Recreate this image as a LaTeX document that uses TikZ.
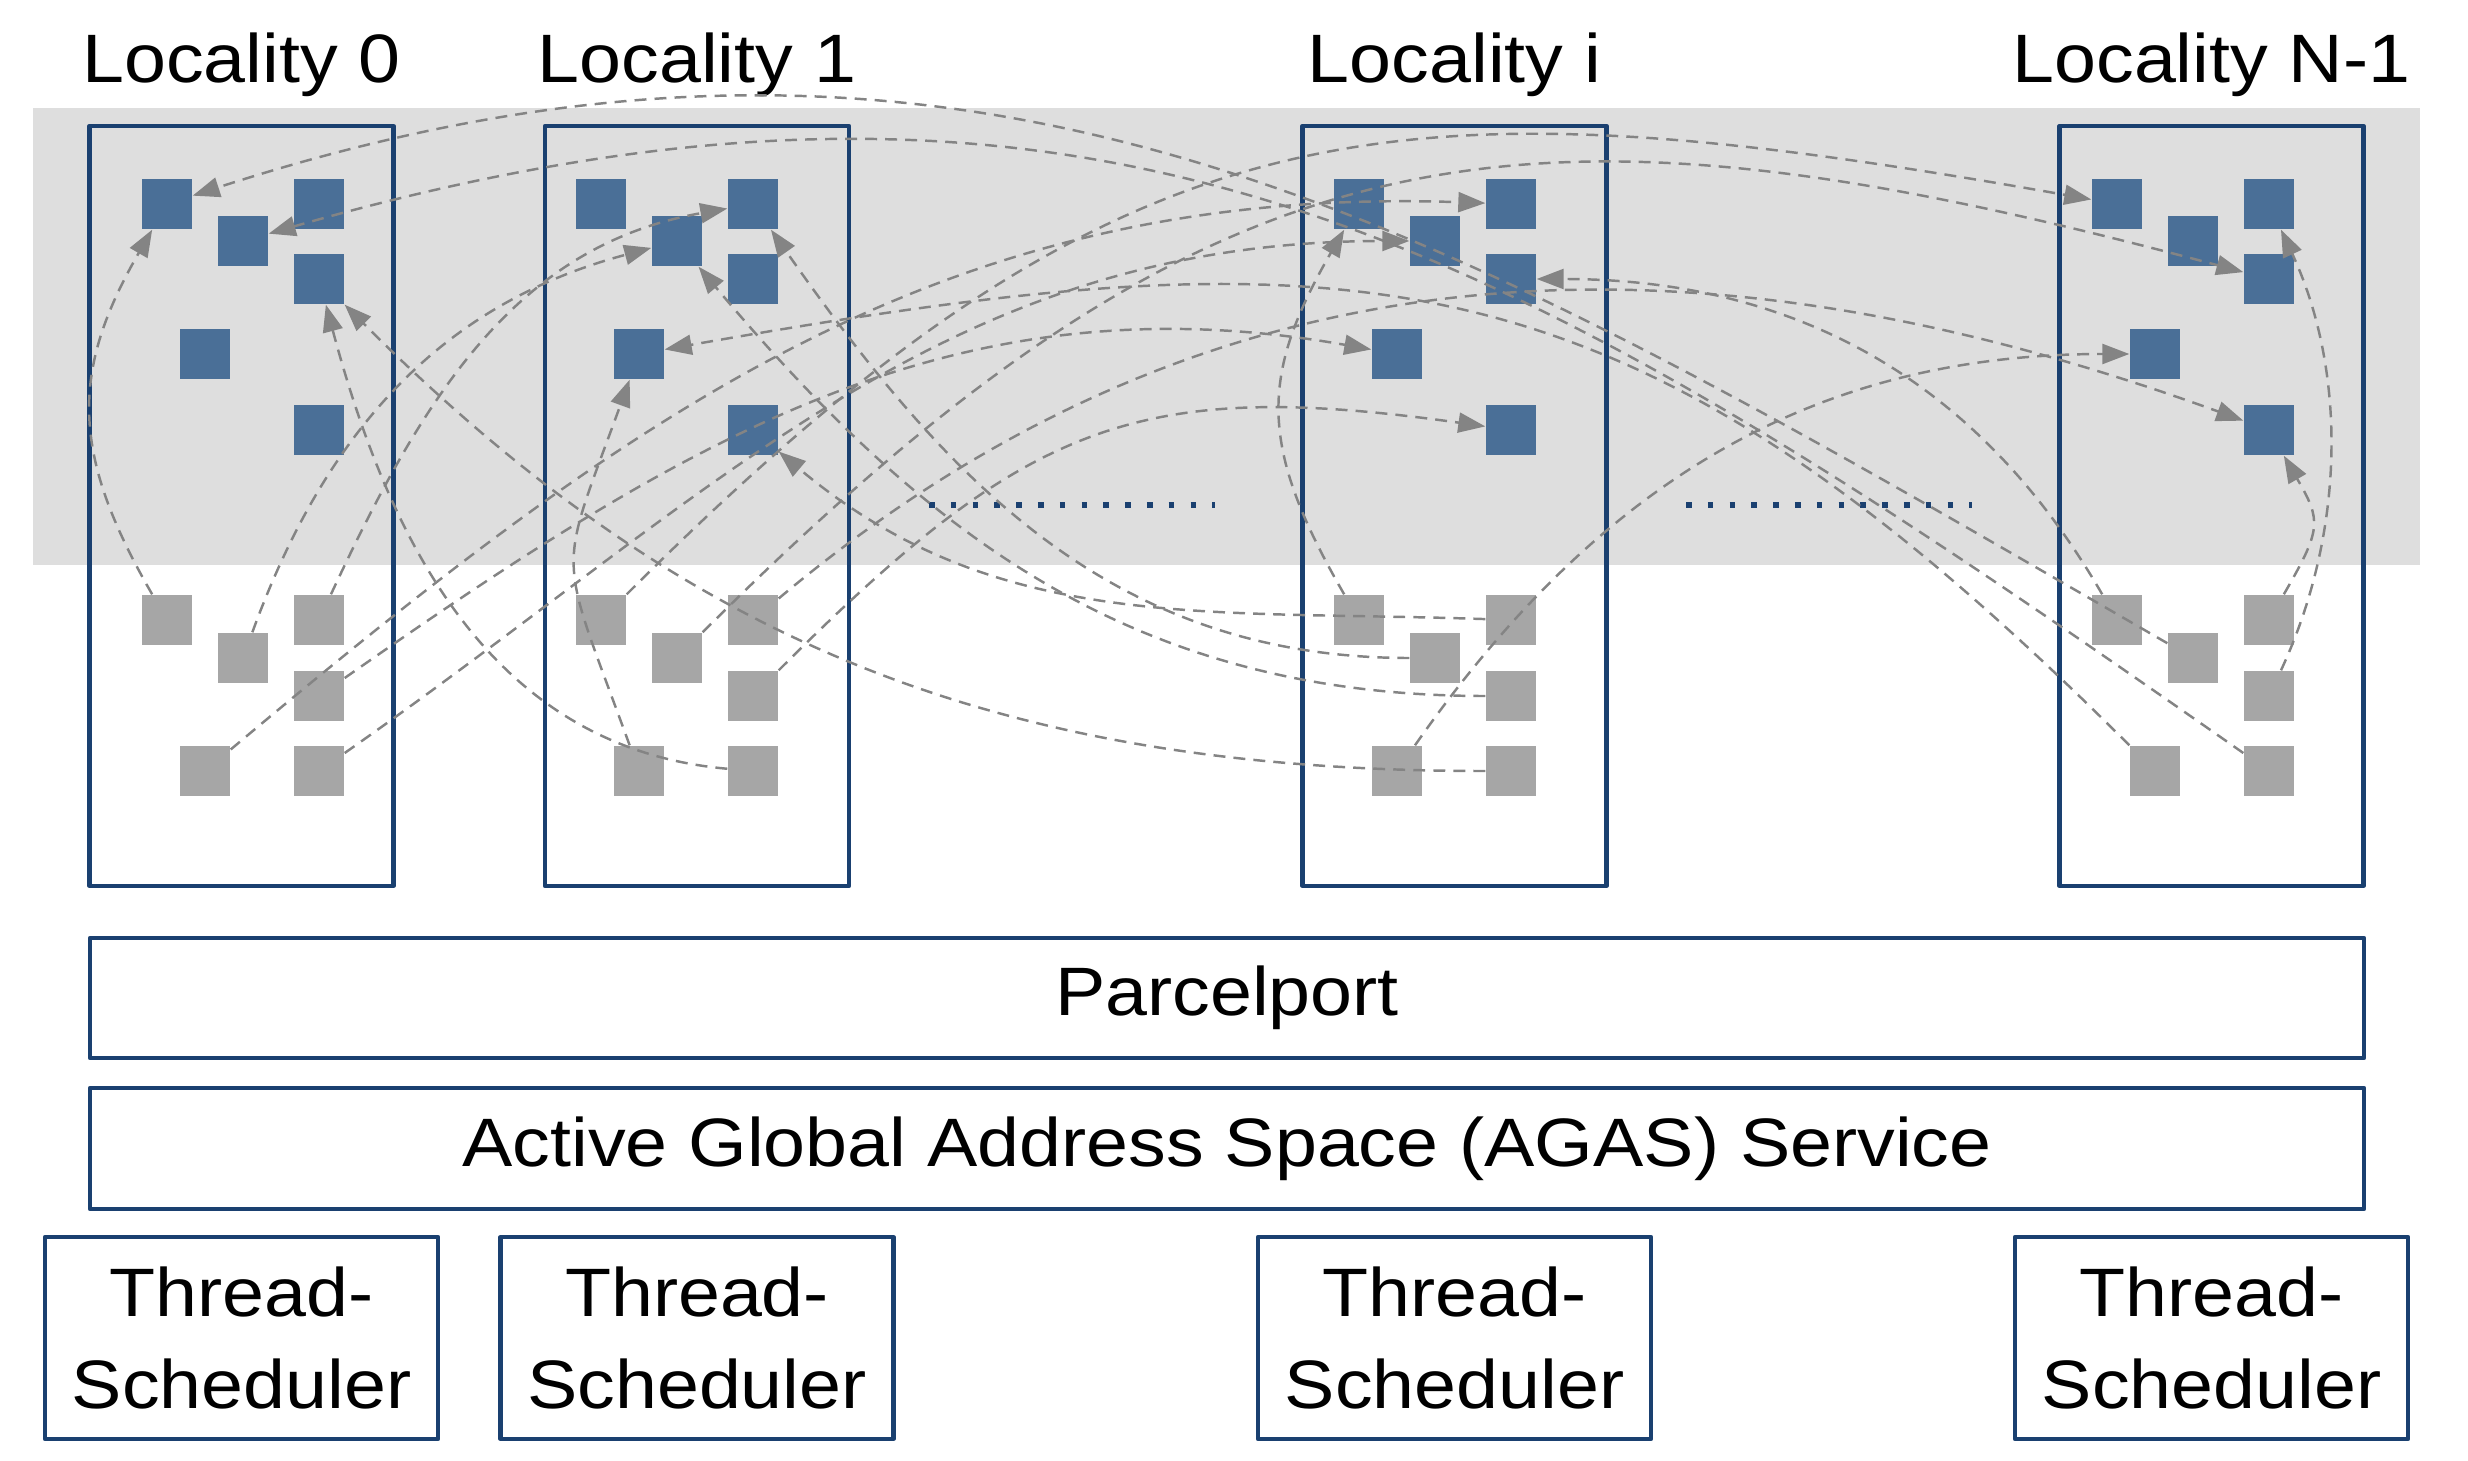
\documentclass[tikz,border=0pt]{standalone}
\usepackage{fontspec}
\setmainfont{Liberation Sans}[FakeStretch=1.1]
\usetikzlibrary{arrows.meta}
\definecolor{navy}{RGB}{26,64,112}
\definecolor{objblue}{RGB}{74,111,151}
\definecolor{idlegray}{RGB}{166,166,166}
\definecolor{bandgray}{RGB}{222,222,222}
\definecolor{msggray}{RGB}{132,132,132}
\begin{document}
\begin{tikzpicture}[>={Triangle[length=.27cm,width=.2cm]},line join=round,
 txt/.style={font=\fontsize{19.5}{25.9}\selectfont},
 loc/.style={draw=navy,line width=1.2pt,minimum width=3.04cm,minimum height=7.6cm,inner sep=0pt},
 layer/.style={loc,txt,minimum width=22.74cm,minimum height=1.2cm},
 sched/.style={loc,txt,minimum width=3.93cm,minimum height=2.02cm,align=center},
 obj/.style={fill=objblue,minimum size=.5cm,inner sep=0pt},
 idle/.style={fill=idlegray,minimum size=.5cm,inner sep=0pt},
 msg/.style={->,msggray,line width=.7pt,dash pattern=on 3.4pt off 2.3pt},
 dots/.style={navy,line width=1.6pt,dash pattern=on 1.6pt off 4.6pt}]
\useasboundingbox (0,0) rectangle (24.68,-14.61);
\fill[bandgray] (.33,-1.08) rectangle (24.20,-5.65);
% localities: boxes, labels, objects
\foreach \l/\x/\bx/\lab in {0/1.67/2.415/0,1/6.01/6.97/1,i/13.59/14.545/i,n/21.17/22.115/N-1}{
 \node[loc] (box\l) at (\bx,-5.06) {}; \node[txt,anchor=base] (lab\l) at (\bx,-.83) {Locality \lab};
 \node[sched] (ts\l) at (\bx,-13.38) {Thread-\\Scheduler};
 \node[obj] (b\l-1) at (\x,-2.04) {}; \node[obj] (b\l-2) at (\x+.76,-2.41) {}; \node[obj] (b\l-3) at (\x+1.52,-2.04) {};
 \node[obj] (b\l-4) at (\x+1.52,-2.79) {}; \node[obj] (b\l-5) at (\x+.38,-3.54) {}; \node[obj] (b\l-6) at (\x+1.52,-4.30) {};
 \node[idle] (g\l-1) at (\x,-6.20) {}; \node[idle] (g\l-2) at (\x+.76,-6.58) {}; \node[idle] (g\l-3) at (\x+1.52,-6.20) {};
 \node[idle] (g\l-4) at (\x+1.52,-6.96) {}; \node[idle] (g\l-5) at (\x+.38,-7.71) {}; \node[idle] (g\l-6) at (\x+1.52,-7.71) {};
}
\node[layer] (pp) at (12.27,-9.98) {Parcelport};
\node[layer,minimum height=1.21cm] (agas) at (12.27,-11.485) {Active Global Address Space (AGAS) Service};
\draw[dots] (9.29,-5.05) -- (12.15,-5.05); \draw[dots] (16.86,-5.05) -- (19.72,-5.05);
% local loops
\draw[msg] (g0-1) to[out=120,in=240,looseness=1.15] (b0-1); \draw[msg] (gi-1) to[out=120,in=240,looseness=1.2] (bi-1);
\draw[msg] (g1-5) to[out=110,in=250,looseness=1.5] (b1-5);
\draw[msg] (gn-4) to[out=65,in=-65,looseness=.9] (bn-3); \draw[msg] (gn-3) to[out=60,in=-60,looseness=1.4] (bn-6);
% remote parcels
\draw[msg] (g0-2) to[out=70,in=195] (b1-2); \draw[msg] (g0-3) to[out=65,in=190] (b1-3);
\draw[msg] (g0-4) to[out=35,in=170] (bi-5); \draw[msg] (g0-5) to[out=40,in=178] (bi-3); \draw[msg] (g0-6) to[out=35,in=180] (bi-2);
\draw[msg] (g1-1) to[out=45,in=170,looseness=1.2] (bn-1); \draw[msg] (g1-2) to[out=45,in=165,looseness=1.2] (bn-4);
\draw[msg] (g1-3) to[out=40,in=160] (bn-6); \draw[msg] (g1-4) to[out=45,in=172,looseness=1.2] (bi-6);
\draw[msg] (g1-6) to[out=175,in=-75] (b0-4);
\draw[msg] (gi-2) to[out=180,in=-55] (b1-3); \draw[msg] (gi-3) to[out=178,in=-40] (b1-6);
\draw[msg] (gi-4) to[out=180,in=-50] (b1-2); \draw[msg] (gi-6) to[out=180,in=-45] (b0-4);
\draw[msg] (gi-5) to[out=55,in=180] (bn-5);
\draw[msg] (gn-1) to[out=120,in=0] (bi-4); \draw[msg] (gn-2) to[out=150,in=18,looseness=1.05] (b0-1);
\draw[msg] (gn-5) to[out=135,in=10,looseness=1.2] (b1-5); \draw[msg] (gn-6) to[out=145,in=16,looseness=1.1] (b0-2);
\end{tikzpicture}
\end{document}
